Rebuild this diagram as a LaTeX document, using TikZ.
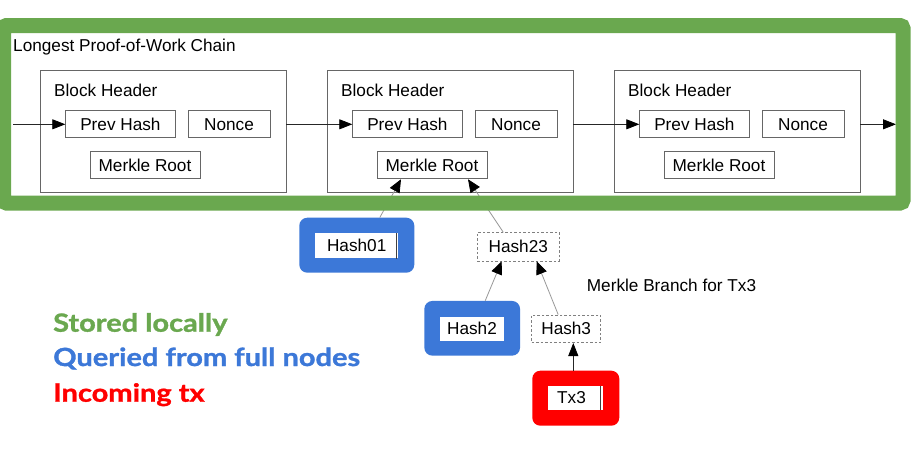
\documentclass[tikz,border=0pt]{standalone}
\usepackage{fontspec}
\setmainfont{Liberation Sans}
\newfontfamily\legendfont{Lato}[FakeStretch=1.16, FakeBold=1.2]
\usetikzlibrary{arrows.meta}
\definecolor{gframe}{HTML}{6AA84F}
\definecolor{bq}{HTML}{3C78D8}
\definecolor{rtx}{HTML}{FF0000}
\definecolor{boxline}{HTML}{666666}
\begin{document}
\begin{tikzpicture}[x=1pt,y=-1pt,
  lbl/.style={font=\fontsize{17.2}{19}\selectfont, text=black, inner sep=0},
  blockbox/.style={draw=boxline, line width=0.9pt, inner sep=0, minimum width=246pt, minimum height=122pt},
  fieldbox/.style={draw=boxline, line width=0.9pt, inner sep=0, minimum height=27pt, font=\fontsize{17.2}{19}\selectfont},
  dashbox/.style={draw=gray, dash pattern=on 2.5pt off 2pt, line width=0.7pt, inner sep=0, font=\fontsize{17.2}{19}\selectfont},
  hlbox/.style={rounded corners=8pt, inner sep=0},
  whitein/.style={fill=white, inner sep=0, font=\fontsize{17.2}{19}\selectfont},
  cursorline/.style={draw=black!75, line width=0.9pt},
  chainarrow/.style={draw=black!85, line width=0.8pt, -{Triangle[length=13pt,width=10pt,color=black]}},
  branchline/.style={draw=gray!80, line width=0.8pt, -{Triangle[length=13pt,width=11pt,color=black]}},
  legend/.style={font=\legendfont\bfseries\fontsize{25}{28}\selectfont, anchor=base west, inner sep=0},
]
\fill[white] (0,0) rectangle (916,448);
\useasboundingbox (0,0) rectangle (916,448);

\node[lbl, anchor=base west] (title) at (13,51) {Longest Proof-of-Work Chain};

% blocks
\foreach \i/\dx in {1/0,2/287,3/574} {
  \node[blockbox] (blk\i) at (163+\dx,131) {};
  \node[lbl, anchor=base west] (bh\i) at (54+\dx,96) {Block Header};
  \node[fieldbox, minimum width=109.3pt] (prev\i) at (120.4+\dx,124.3) {Prev Hash};
  \node[fieldbox, minimum width=82pt] (nonce\i) at (229+\dx,124.3) {Nonce};
  \node[fieldbox, minimum width=110pt] (mr\i) at (145+\dx,165.3) {Merkle Root};
}

\coordinate (cin) at (13,124.3);
\coordinate (cout) at (896,124.3);
\draw[chainarrow] (cin) -- (prev1.west);
\draw[chainarrow] (blk1.east |- prev1.west) -- (prev2.west);
\draw[chainarrow] (blk2.east |- prev2.west) -- (prev3.west);
\draw[chainarrow] (blk3.east |- prev3.west) -- (cout);

% merkle branch
\node[hlbox, fill=bq, minimum width=115pt, minimum height=55pt] (hash01) at (356.8,245.2) {};
\node[whitein, minimum width=83.3pt, minimum height=25pt] (hash01in) at (356.7,245.8) {Hash01};
\draw[cursorline] ([xshift=-2.5pt]hash01in.north east) -- ([xshift=-2.5pt]hash01in.south east);

\node[dashbox, minimum width=82pt, minimum height=28.3pt] (hash23) at (518.3,246.8) {Hash23};

\node[hlbox, fill=bq, minimum width=95.7pt, minimum height=54.7pt] (hash2) at (472.2,328.3) {};
\node[whitein, minimum width=64pt, minimum height=24pt] (hash2in) at (472,328.7) {Hash2};

\node[dashbox, minimum width=69pt, minimum height=27.7pt] (hash3) at (566.2,328.8) {Hash3};

\node[hlbox, fill=rtx, minimum width=87pt, minimum height=55pt] (tx3) at (575.8,398.2) {};
\node[whitein, minimum width=55.6pt, minimum height=24pt] (tx3in) at (575.5,398) {\hspace*{-8pt}Tx3};
\draw[cursorline] ([xshift=-3pt]tx3in.north east) -- ([xshift=-3pt]tx3in.south east);

\node[lbl, anchor=base west] (branchlbl) at (586.7,291.7) {Merkle Branch for Tx3};

\draw[branchline] ([xshift=23pt]hash01.north) -- ([xshift=-31pt]mr2.south);
\draw[branchline] ([xshift=-15pt]hash23.north) -- ([xshift=36pt]mr2.south);
\draw[branchline] ([xshift=13pt]hash2.north) -- ([xshift=-16.6pt]hash23.south);
\draw[branchline] ([xshift=-8pt]hash3.north) -- ([xshift=18.4pt]hash23.south);
\draw[chainarrow] ([xshift=-2.5pt]tx3.north) -- ([xshift=7.1pt]hash3.south);

% green frame (stored locally)
\draw[gframe, line width=15pt, rounded corners=3pt] (3.5,25.5) rectangle (903,203);

% legend
\node[legend, text=gframe] (leg1) at (53,331.7) {Stored locally};
\node[legend, text=bq] (leg2) at (53,366) {Queried from full nodes};
\node[legend, text=rtx] (leg3) at (53,401.7) {Incoming tx};
\end{tikzpicture}
\end{document}
